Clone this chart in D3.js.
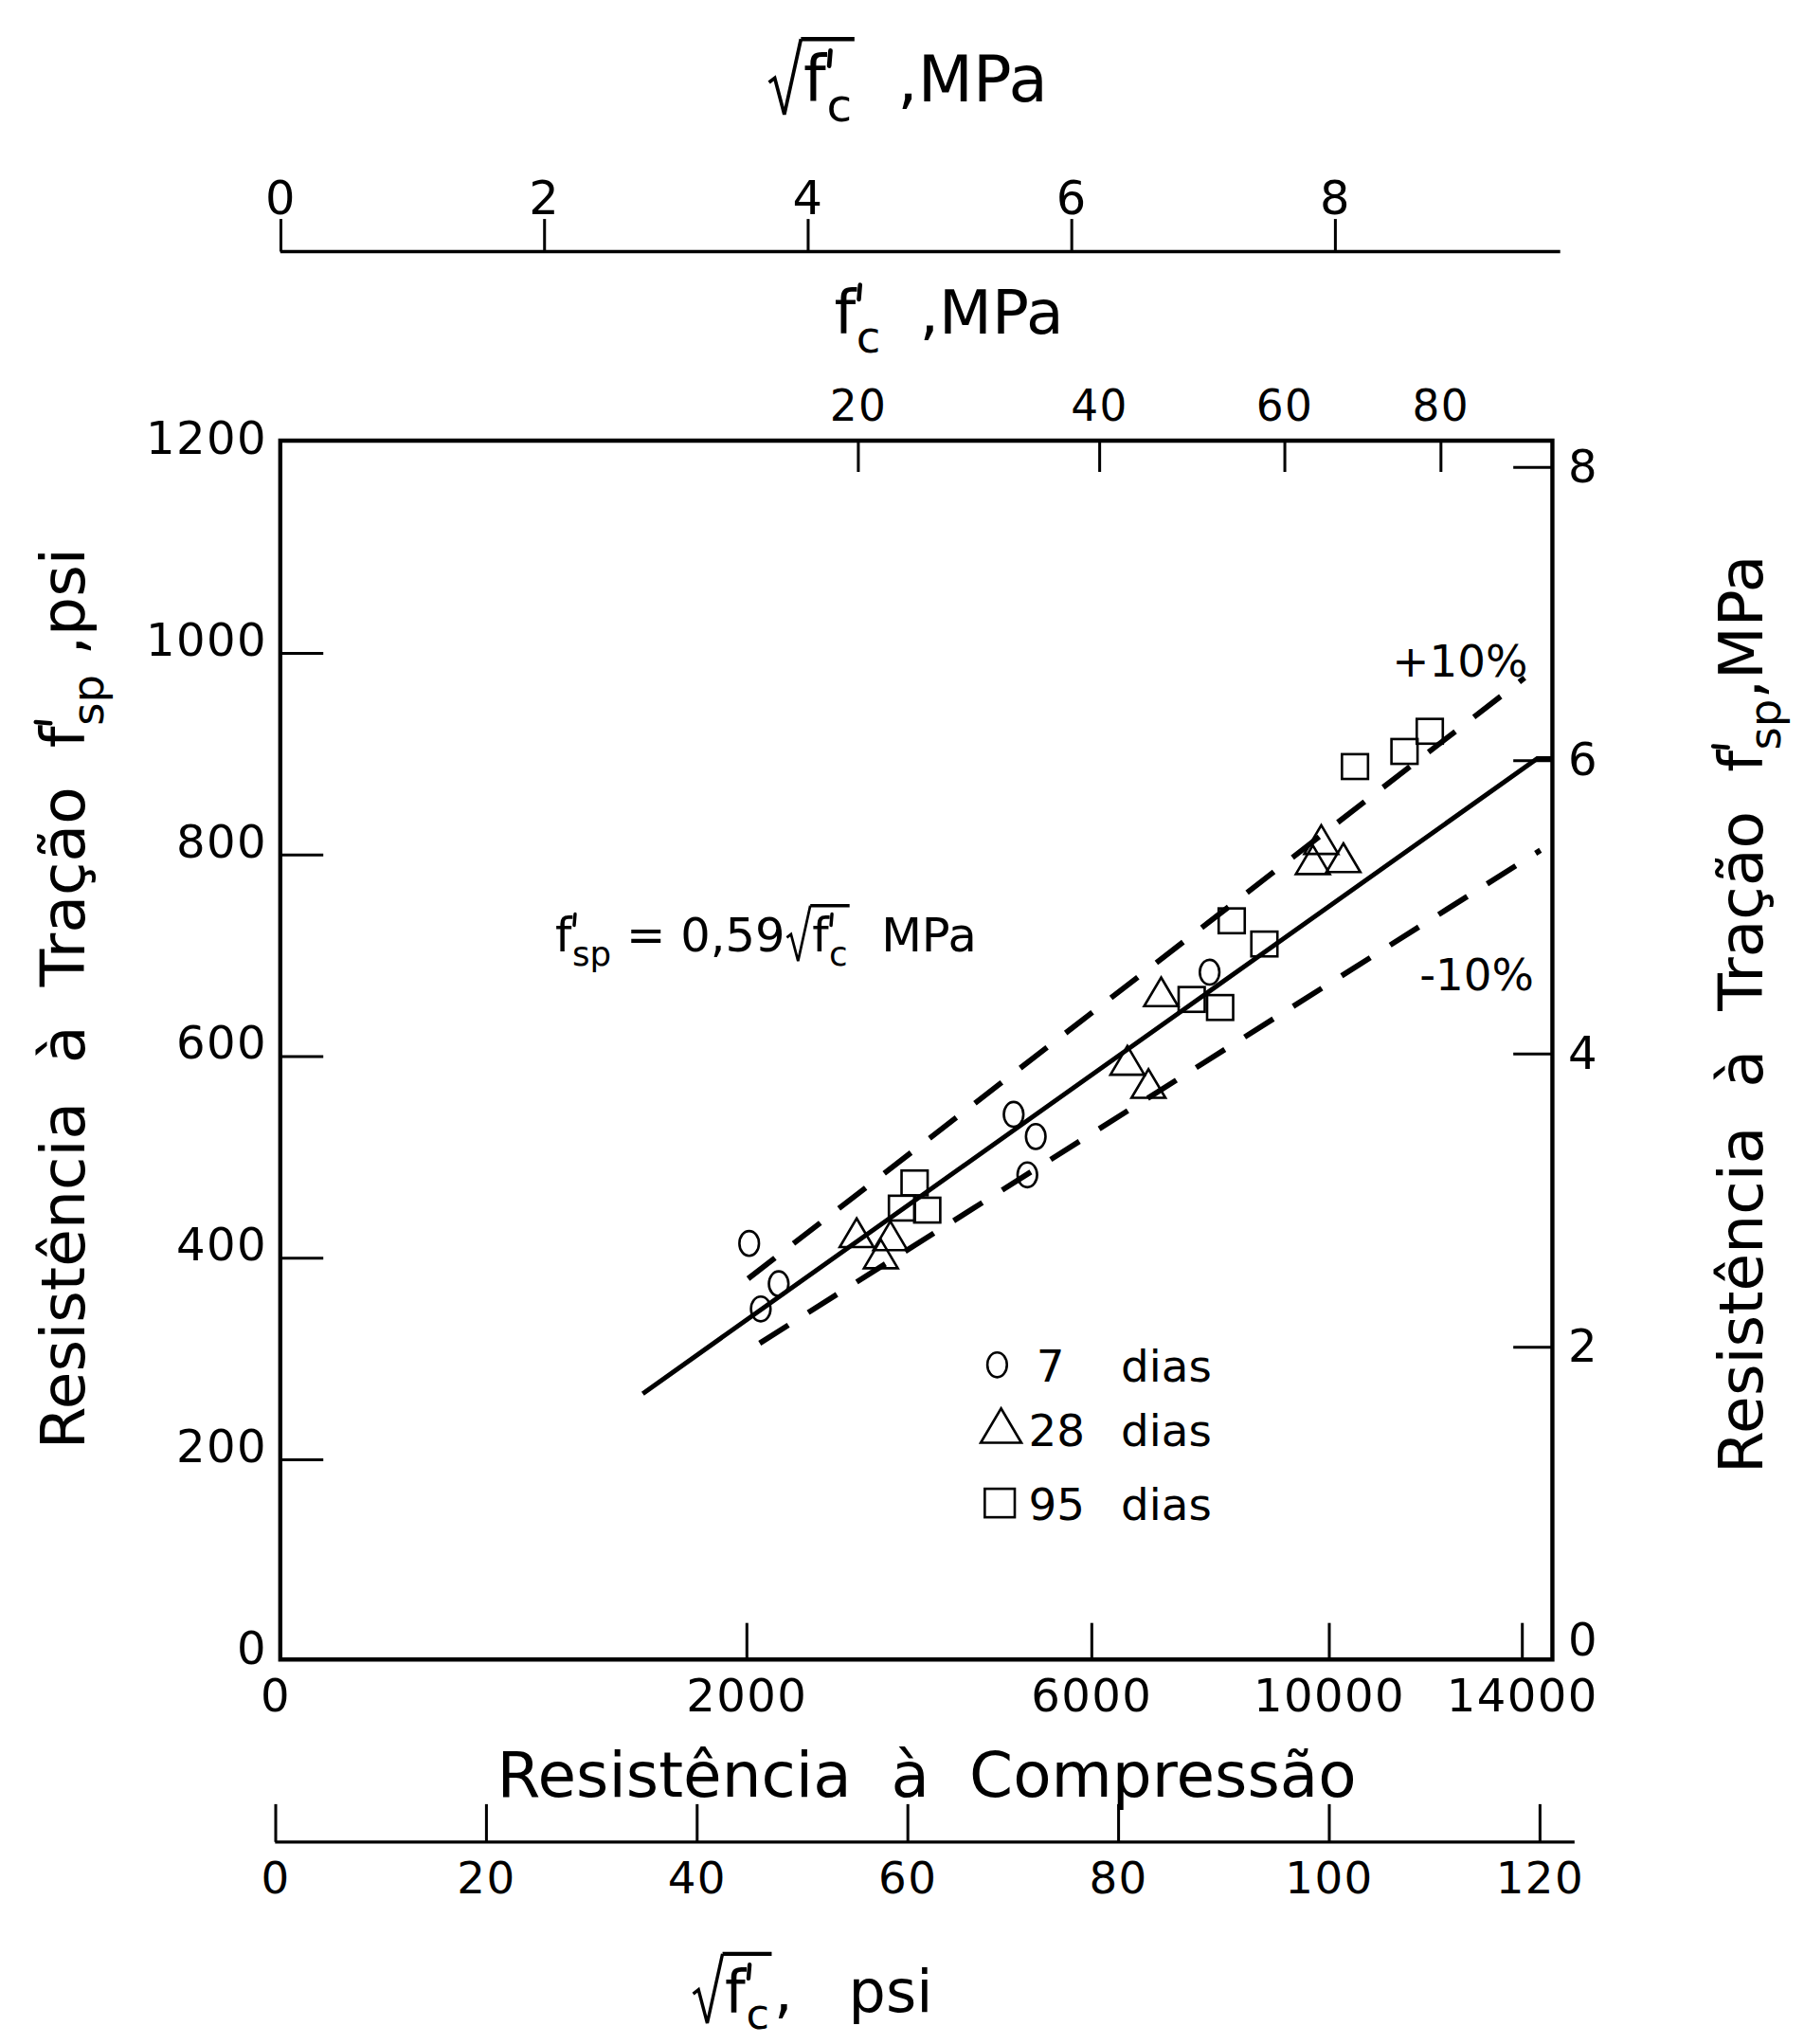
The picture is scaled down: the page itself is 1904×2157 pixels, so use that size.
<!DOCTYPE html>
<html><head><meta charset="utf-8">
<script src="https://cdn.jsdelivr.net/npm/d3@7"></script>
<style>
html,body{margin:0;padding:0;background:#fff;}
svg{display:block;background:#fff;}
text{font-family:"DejaVu Sans",sans-serif;fill:#000;}
</style></head><body>
<svg id="chart" width="1904" height="2157" viewBox="0 0 1384 1568"></svg>
<script>
// ---------- data (x = sqrt(f'c) in psi^0.5, y = f'sp in psi) ----------
const circles7 = [[45.0,414],[47.8,374],[46.1,349],[70.1,542],[72.2,520],[71.4,482],[88.7,683]];
const triangles28 = [[55.2,422],[58.4,419],[57.5,401],[84.1,661],[80.9,593],[82.9,570],[99.3,812],[98.5,792],[101.4,794]];
const squares95 = [[60.7,474],[59.5,449],[61.9,447],[87.0,656],[89.7,648],[90.8,734],[93.9,711],[102.5,887],[107.2,902],[109.6,922]];
const meanLine = [[34.9,265],[119.8,895],[121.2,895]];
const upperLine = [[44.9,379],[118.6,975]];
const lowerLine = [[46.0,315],[120.1,804]];
const leftTicks = [0,200,400,600,800,1000,1200];
const rightTicks = [0,2,4,6,8];
const topMPaTicks = [20,40,60,80];
const topSqrtTicks = [0,2,4,6,8];
const bottomPsiTicks = [0,2000,6000,10000,14000];
const bottomSqrtTicks = [0,20,40,60,80,100,120];
const legendItems = ["7","28","95"];

// ---------- layout ----------
const svg = d3.select("#chart");
const box = {left:215, right:1191, top:338, bottom:1273};
const xS = d3.scaleLinear().domain([0,120]).range([211,1181]);
const xPsi = d3.scaleSqrt().domain([0,14400]).range([211,1181]);
const xMPa = d3.scaleSqrt().domain([0,80]).range([211,1105]);
const xSqM = d3.scaleLinear().domain([0,8]).range([215,1024]);
const yP = d3.scaleLinear().domain([0,1200]).range([1274,346]);
const yM = d3.scaleLinear().domain([0,8]).range([1258,358]);

function styleAxis(g, fs){
  g.attr("font-size", null).attr("font-family", null);
  g.select(".domain").remove();
  g.selectAll(".tick line").attr("stroke","#000").attr("stroke-width",2.2);
  g.selectAll(".tick text").attr("font-size", fs).style("letter-spacing","1px");
}

// frame
const frame = svg.append("g").attr("stroke","#000").attr("stroke-width",3.2).attr("fill","none");
frame.append("path").attr("d",`M${box.left},${box.top}V${box.bottom}H${box.right}V${box.top}Z`);

// left axis (psi)
const gL = svg.append("g").attr("transform",`translate(${box.left},0)`)
  .call(d3.axisLeft(yP).tickValues(leftTicks).tickSize(-33).tickPadding(10).tickFormat(d3.format("d")));
styleAxis(gL, 35);
gL.selectAll(".tick").filter(d=>d===0||d===1200).select("line").remove();
gL.selectAll(".tick text").attr("dy","0.05em");

// right axis (MPa)
const gR = svg.append("g").attr("transform",`translate(${box.right},0)`)
  .call(d3.axisRight(yM).tickValues(rightTicks).tickSize(-30).tickPadding(12));
styleAxis(gR, 35);
gR.selectAll(".tick").filter(d=>d===0).select("line").remove();

// top f'c MPa axis
const gT = svg.append("g").attr("transform",`translate(0,${box.top})`)
  .call(d3.axisTop(xMPa).tickValues(topMPaTicks).tickSize(-24).tickPadding(15));
styleAxis(gT, 33);

// bottom f'c psi axis
const gB = svg.append("g").attr("transform",`translate(0,${box.bottom})`)
  .call(d3.axisBottom(xPsi).tickValues(bottomPsiTicks).tickSize(-28).tickPadding(15).tickFormat(d3.format("d")));
styleAxis(gB, 35);
gB.selectAll(".tick").filter(d=>d===0).select("line").remove();

// top sqrt(f'c) MPa axis
const ySqTop = 193;
const gT2 = svg.append("g").attr("transform",`translate(0,${ySqTop})`)
  .call(d3.axisTop(xSqM).tickValues(topSqrtTicks).tickSize(25).tickPadding(4));
styleAxis(gT2, 36);
svg.append("line").attr("x1",xSqM(0)).attr("x2",box.right+6).attr("y1",ySqTop).attr("y2",ySqTop)
  .attr("stroke","#000").attr("stroke-width",2.4);

// bottom sqrt(f'c) psi axis
const ySqBot = 1413;
const gB2 = svg.append("g").attr("transform",`translate(0,${ySqBot})`)
  .call(d3.axisBottom(xS).tickValues(bottomSqrtTicks).tickSize(-29).tickPadding(15));
styleAxis(gB2, 34);
svg.append("line").attr("x1",xS(0)).attr("x2",box.right+17).attr("y1",ySqBot).attr("y2",ySqBot)
  .attr("stroke","#000").attr("stroke-width",2.4);

// ---------- lines ----------
const line = d3.line().x(d=>xS(d[0])).y(d=>yP(d[1]));
svg.append("path").datum(meanLine).attr("d",line).attr("fill","none").attr("stroke","#000").attr("stroke-width",3.6);
[upperLine, lowerLine].forEach(L=>{
  svg.append("path").datum(L).attr("d",line).attr("fill","none").attr("stroke","#000")
    .attr("stroke-width",4.2).attr("stroke-dasharray","26,18");
});

// ---------- markers ----------
const mk = svg.append("g").attr("fill","none").attr("stroke","#000").attr("stroke-width",1.9);
function circ(g,x,y){ g.append("ellipse").attr("cx",x).attr("cy",y).attr("rx",7.5).attr("ry",9.5); }
function tri(g,x,y,s){ s=s||1; g.append("path").attr("d",`M${x},${y-13*s}L${x+13*s},${y+9*s}L${x-13*s},${y+9*s}Z`); }
function sq(g,x,y,s){ s=s||1; g.append("rect").attr("x",x-10*s).attr("y",y-9.5*s).attr("width",20*s).attr("height",19*s); }
circles7.forEach(d=>circ(mk,xS(d[0]),yP(d[1])));
triangles28.forEach(d=>tri(mk,xS(d[0]),yP(d[1])));
squares95.forEach(d=>sq(mk,xS(d[0]),yP(d[1])));

// ---------- rich text helper ----------
// parts: {t, fs (rel), dy (rel)}, {prime}, {rad:'open'|'close'}
function rich(g, parts, fs0){
  let cx = 0, radStart = 0, radTop = 0, lastEnd = 0;
  parts.forEach(p=>{
    if(p.rad==='open'){
      const x0 = cx + 0.04*fs0;
      radTop = -0.98*fs0;
      g.append("path").attr("d",`M${x0},${-0.30*fs0}L${x0+0.09*fs0},${-0.37*fs0}L${x0+0.24*fs0},${0.2*fs0}L${x0+0.5*fs0},${radTop}`)
        .attr("fill","none").attr("stroke","#000").attr("stroke-width",fs0*0.055);
      radStart = x0+0.5*fs0; cx = radStart + 0.04*fs0; return;
    }
    if(p.rad==='close'){
      g.append("line").attr("x1",radStart).attr("x2",cx+0.04*fs0).attr("y1",radTop).attr("y2",radTop)
        .attr("stroke","#000").attr("stroke-width",fs0*0.07);
      cx += 0.08*fs0; return;
    }
    if(p.prime){
      const px = lastEnd + 0.05*fs0;
      g.append("line").attr("x1",px+0.02*fs0).attr("x2",px).attr("y1",-0.8*fs0).attr("y2",-0.56*fs0)
        .attr("stroke","#000").attr("stroke-width",fs0*0.07).attr("stroke-linecap","round");
      return;
    }
    const fs = (p.fs||1)*fs0;
    const sx = cx + (p.dx||0)*fs0;
    const t = g.append("text").attr("x",sx).attr("y",(p.dy||0)*fs0).attr("font-size",fs)
      .style("white-space","pre").text(p.t);
    const w = t.node().getComputedTextLength();
    lastEnd = sx + w;
    cx = Math.max(cx, sx+w);
  });
  return cx;
}
const fc = [{t:"f"},{prime:true},{t:"c",fs:0.72,dy:0.3,dx:0.01}];
const fsp = [{t:"f"},{prime:true},{t:"sp",fs:0.72,dy:0.3,dx:0.01}];

// titles
rich(svg.append("g").attr("transform","translate(588,78)"), [{rad:'open'}, ...fc, {rad:'close'}, {t:"  ,MPa"}], 49);
rich(svg.append("g").attr("transform","translate(640,256)"), [...fc, {t:"  ,MPa"}], 47);
rich(svg.append("g").attr("transform","translate(530,1543)"), [{rad:'open'}, ...fc, {rad:'close'}, {t:",   psi"}], 45);
rich(svg.append("g").attr("transform","translate(426,730)"), [...fsp, {t:" = 0,59"}, {rad:'open'}, ...fc, {rad:'close'}, {t:"  MPa"}], 36);

function rotLabel(x, y, tail){
  const outer = svg.append("g").attr("transform",`translate(${x},${y}) rotate(-90)`);
  const inner = outer.append("g");
  const w = rich(inner, [{t:"Resistência  à  Tração  "}, ...fsp, {t:tail}], 47);
  inner.attr("transform",`translate(${-w/2},0)`);
}
rotLabel(65, 766, " ,psi");
rotLabel(1352, 778, ",MPa");

svg.append("text").attr("x",711).attr("y",1378).attr("text-anchor","middle").attr("font-size",48)
  .style("white-space","pre").text("Resistência  à  Compressão");

// +/-10%
svg.append("text").attr("x",1120).attr("y",519).attr("text-anchor","middle").attr("font-size",34).text("+10%");
svg.append("text").attr("x",1133).attr("y",760).attr("text-anchor","middle").attr("font-size",34).text("-10%");

// legend
const lg = svg.append("g");
const lgY = [1047,1096,1153];
const lgM = lg.append("g").attr("fill","none").attr("stroke","#000").attr("stroke-width",1.9);
circ(lgM,765,lgY[0]); tri(lgM,768,lgY[1],1.2); sq(lgM,767,lgY[2],1.15);
legendItems.forEach((n,i)=>{
  const t = lg.append("text").attr("y",lgY[i]+13).attr("font-size",34);
  t.append("tspan").attr("x", i===0?795:789).text(n);
  t.append("tspan").attr("x",860).text("dias");
});
</script>
</body></html>
